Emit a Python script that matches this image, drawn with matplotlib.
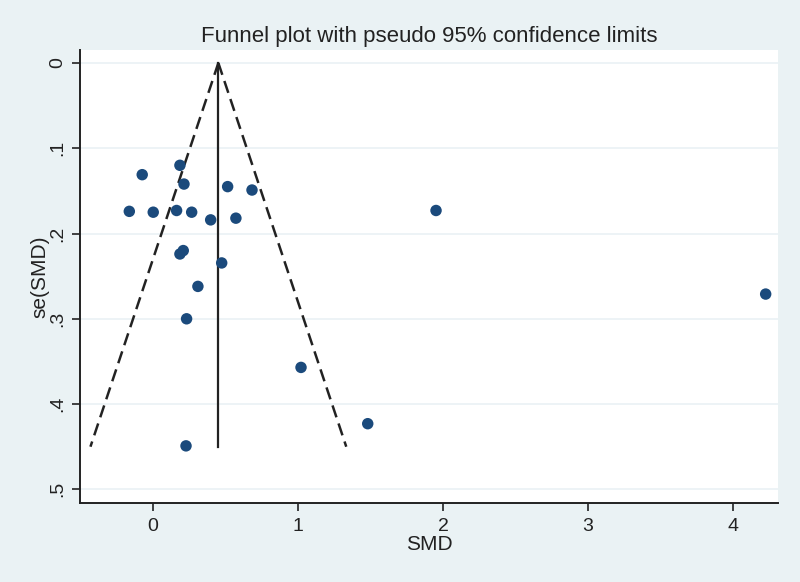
import matplotlib.pyplot as plt
import numpy as np

plt.rcParams['font.family'] = ['Liberation Sans', 'DejaVu Sans']

# study estimates
smd = [0.186, -0.074, 0.214, 0.515, 0.683, -0.163, 0.002, 0.163, 0.267, 0.398,
       0.572, 0.186, 0.209, 0.474, 0.310, 0.232, 1.021, 0.228, 1.481, 1.952, 4.225]
se_smd = [0.120, 0.131, 0.142, 0.145, 0.149, 0.174, 0.175, 0.173, 0.175, 0.184,
          0.182, 0.224, 0.220, 0.2345, 0.262, 0.300, 0.357, 0.449, 0.423, 0.173, 0.271]
pooled = 0.451
se_max = 0.45
x_ticks = [0, 1, 2, 3, 4]
y_ticks = [0, 0.1, 0.2, 0.3, 0.4, 0.5]
y_labels = ['0', '.1', '.2', '.3', '.4', '.5']

bg = '#eaf2f4'
dot = '#1b4a7c'

fig = plt.figure(figsize=(8, 5.82), dpi=100, facecolor=bg)
ax = fig.add_axes([80 / 800, 1 - 503 / 582, 698 / 800, 453 / 582])
ax.set_facecolor('white')

for t in y_ticks:
    ax.axhline(t, color='#eaf1f5', lw=1.2, zorder=0)

se_line = np.array([0, se_max])
ax.plot(pooled - 1.96 * se_line, se_line, color='#222222', lw=1.8, ls=(0, (5, 2.6)))
ax.plot(pooled + 1.96 * se_line, se_line, color='#222222', lw=1.8, ls=(0, (5, 2.6)))
ax.plot([pooled, pooled], se_line, color='#222222', lw=1.6)

ax.scatter(smd, se_smd, s=68, color=dot, zorder=3, edgecolors='none')

ax.set_xlim(-0.503, 4.31)
ax.set_ylim(0.516, -0.0152)
ax.set_xticks(x_ticks)
ax.set_yticks(y_ticks)
ax.set_yticklabels(y_labels, rotation=90, va='center')
ax.tick_params(axis='both', length=6, width=1.2, color='#222222', labelsize=14, labelcolor='#222222')
ax.tick_params(axis='y', pad=4)
ax.tick_params(axis='x', pad=5)

for s in ['top', 'right']:
    ax.spines[s].set_visible(False)
for s in ['left', 'bottom']:
    ax.spines[s].set_color('#222222')
    ax.spines[s].set_linewidth(1.4)

ax.set_title('Funnel plot with pseudo 95% confidence limits', fontsize=16, color='#222222', pad=6)
ax.set_xlabel('SMD', fontsize=15, color='#222222', labelpad=0)
ax.set_ylabel('se(SMD)', fontsize=15, color='#222222', labelpad=0)

fig.savefig('out.png', dpi=100, facecolor=bg)
